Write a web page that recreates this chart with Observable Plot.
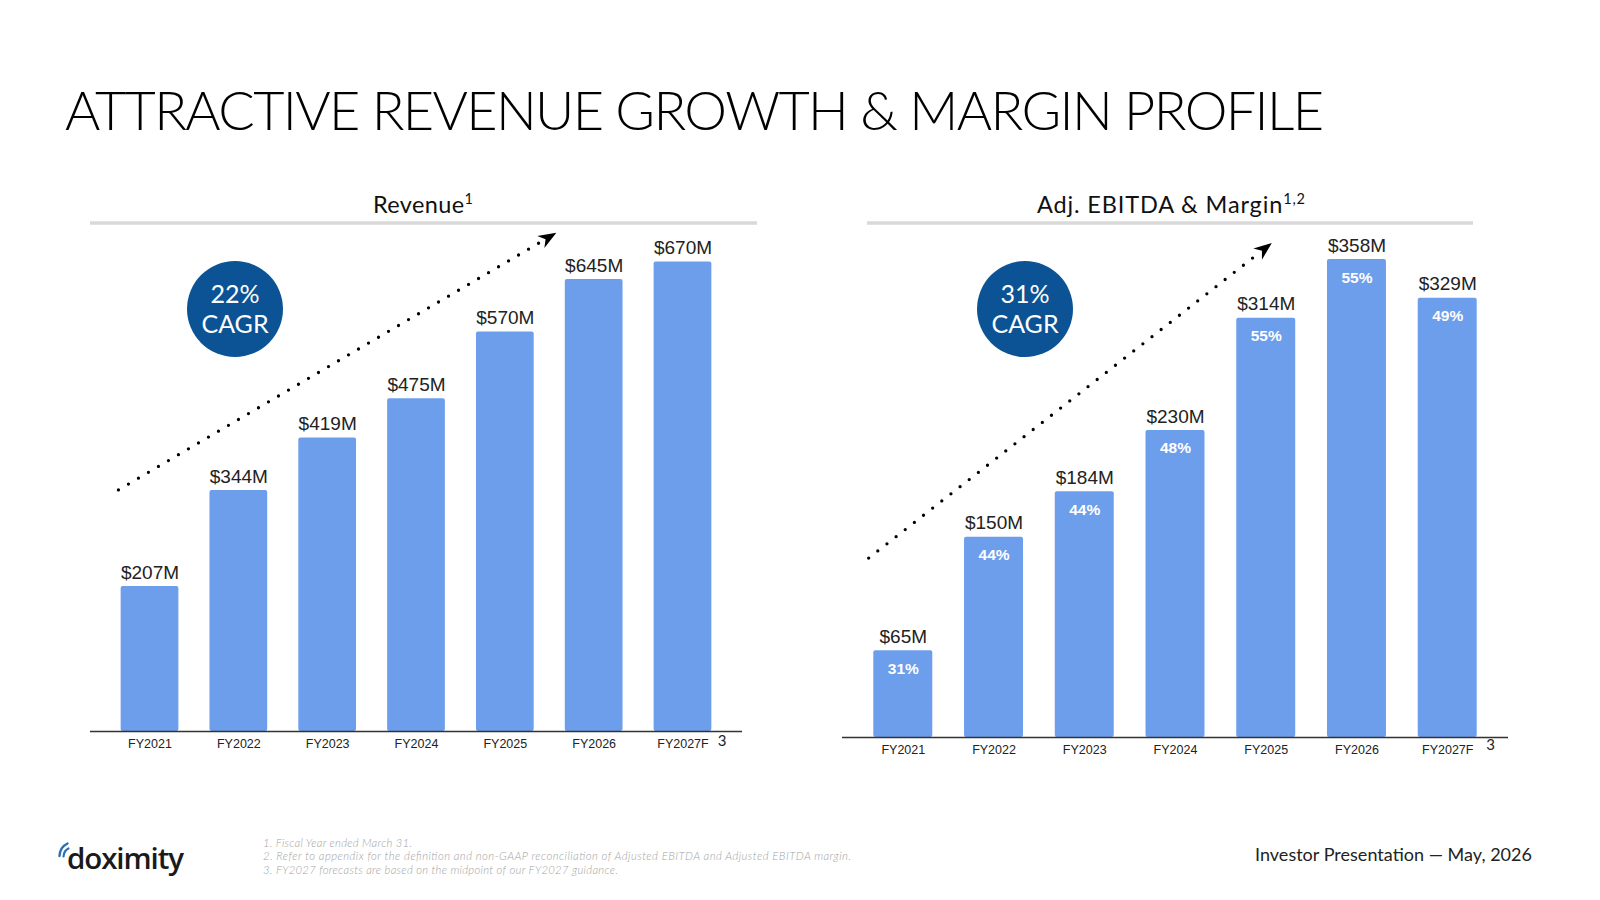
<!DOCTYPE html>
<html>
<head>
<meta charset="utf-8">
<script src="https://cdn.jsdelivr.net/npm/d3@7"></script>
<script src="https://cdn.jsdelivr.net/npm/@observablehq/plot@0.6"></script>
<style>
  html, body { margin: 0; padding: 0; background: #fff; }
  #page { position: relative; width: 1600px; height: 900px; overflow: hidden; background: #fff; }
  #page > svg.frame { position: absolute; left: 0; top: 0; }
  .chart { position: absolute; }
  .chart svg { overflow: visible; }
</style>
</head>
<body>
<div id="page"></div>
<script>
// ---- data ----
const years = ["FY2021", "FY2022", "FY2023", "FY2024", "FY2025", "FY2026", "FY2027F"];
const revenue = [207, 344, 419, 475, 570, 645, 670];          // $M
const ebitda = [65, 150, 184, 230, 314, 358, 329];            // $M
const ebitdaMargin = [31, 44, 44, 48, 55, 55, 49];            // %
const forecastMarks = [{ year: "FY2027F", mark: "3" }];

// trend arrows: position as fractional category index, height in $M
const revenueTrend = [{ at: -0.35, value: 344 }, { at: 4.58, value: 711 }];
const ebitdaTrend = [{ at: -0.376, value: 134 }, { at: 4.067, value: 370 }];

const title = "ATTRACTIVE REVENUE GROWTH & MARGIN PROFILE";
const footnotes = [
  "1. Fiscal Year ended March 31.",
  "2. Refer to appendix for the definition and non-GAAP reconciliation of Adjusted EBITDA and Adjusted EBITDA margin.",
  "3. FY2027 forecasts are based on the midpoint of our FY2027 guidance."
];
const footer = "Investor Presentation \u2014 May, 2026";

const BAR = "#6d9eeb";
const BADGE = "#0b5394";
const SANS = "'Liberation Sans', Arial, Helvetica, sans-serif";
const HUMAN = "Lato, 'Open Sans', sans-serif";

const revenueRows = years.map((year, i) => ({ year, value: revenue[i] }));
const ebitdaRows = years.map((year, i) => ({ year, value: ebitda[i], margin: ebitdaMargin[i] }));

const cagr = (arr) => Math.pow(arr[arr.length - 1] / arr[0], 1 / (arr.length - 1)) - 1;
const pct = d3.format(".0%");

// ---- page frame: title, panel headers, badges, footer ----
const page = d3.select("#page");
const frame = page.append("svg").attr("class", "frame").attr("width", 1600).attr("height", 900);

frame.append("text")
  .attr("x", 65).attr("y", 130)
  .attr("font-family", HUMAN).attr("font-weight", 300).attr("font-size", 54).attr("fill", "#000")
  .attr("textLength", 1259).attr("lengthAdjust", "spacing")
  .text(title);

function panelHeader(cx, x1, x2, label, sup, len) {
  const t = frame.append("text")
    .attr("x", cx).attr("y", 213).attr("text-anchor", "middle")
    .attr("font-family", HUMAN).attr("font-size", 23.5).attr("fill", "#111")
    .attr("textLength", len).attr("lengthAdjust", "spacing");
  t.append("tspan").text(label);
  t.append("tspan").attr("font-size", 14.5).attr("dy", -9).text(sup);
  frame.append("line")
    .attr("x1", x1).attr("x2", x2).attr("y1", 223).attr("y2", 223)
    .attr("stroke", "#d9d9d9").attr("stroke-width", 3.5);
}
panelHeader(423, 90, 757, "Revenue", "1", 100);
panelHeader(1171, 867, 1473, "Adj. EBITDA & Margin", "1,2", 268);

function badge(cx, cy, value) {
  frame.append("circle").attr("cx", cx).attr("cy", cy).attr("r", 48).attr("fill", BADGE);
  const t = frame.append("text").attr("text-anchor", "middle")
    .attr("font-family", HUMAN).attr("font-size", 25).attr("fill", "#fff");
  t.append("tspan").attr("x", cx).attr("y", cy - 6).text(value);
  t.append("tspan").attr("x", cx).attr("y", cy + 24).text("CAGR");
}
badge(235, 309, pct(cagr(revenue)));
badge(1025, 309, pct(cagr(ebitda)));

// logo
const logo = frame.append("g");
logo.append("text")
  .attr("x", 67).attr("y", 869)
  .attr("font-family", "'Open Sans', sans-serif").attr("font-weight", 600)
  .attr("font-size", 29.5).attr("fill", "#1a1a1a")
  .attr("textLength", 117).attr("lengthAdjust", "spacing")
  .text("doximity");
logo.append("path").attr("d", "M59.5,856 Q60,847 67.5,843.5")
  .attr("fill", "none").attr("stroke", "#2a6fb8").attr("stroke-width", 2.4).attr("stroke-linecap", "round");
logo.append("path").attr("d", "M63.5,856.5 Q64,850.5 68.5,848.5")
  .attr("fill", "none").attr("stroke", "#2a6fb8").attr("stroke-width", 2.2).attr("stroke-linecap", "round");

// footnotes
const noteLengths = [149, 588, 355];
footnotes.forEach((s, i) => {
  frame.append("text")
    .attr("x", 263).attr("y", 846.5 + i * 13.7)
    .attr("font-family", HUMAN).attr("font-style", "italic").attr("font-weight", 300)
    .attr("font-size", 11.3).attr("fill", "#a3a3a3")
    .attr("textLength", noteLengths[i]).attr("lengthAdjust", "spacing")
    .text(s);
});

frame.append("text")
  .attr("x", 1532).attr("y", 861).attr("text-anchor", "end")
  .attr("font-family", HUMAN).attr("font-size", 18).attr("fill", "#222")
  .attr("textLength", 277).attr("lengthAdjust", "spacing")
  .text(footer);

// ---- charts ----
function drawTrend(chart, trend) {
  const svgEl = chart.tagName.toLowerCase() === "svg" ? chart : chart.querySelector("svg");
  const sx = chart.scale("x"), sy = chart.scale("y");
  const band = d3.scaleBand(sx.domain, sx.range)
    .paddingInner(sx.paddingInner ?? 0.35).paddingOuter(sx.paddingOuter ?? 0.345).align(sx.align ?? 0.5);
  const yf = sy.apply ? (v) => sy.apply(v) : d3.scaleLinear(sy.domain, sy.range);
  const x0 = band(sx.domain[0]) + band.bandwidth() / 2;
  const px = (f) => x0 + f * band.step();
  const p0 = [px(trend[0].at), yf(trend[0].value)];
  const p1 = [px(trend[1].at), yf(trend[1].value)];
  const ang = Math.atan2(p1[1] - p0[1], p1[0] - p0[0]);
  const stop = 15;
  const g = d3.select(svgEl).append("g").attr("class", "trend");
  g.append("line")
    .attr("x1", p0[0]).attr("y1", p0[1])
    .attr("x2", p1[0] - Math.cos(ang) * stop).attr("y2", p1[1] - Math.sin(ang) * stop)
    .attr("stroke", "#000").attr("stroke-width", 3.3)
    .attr("stroke-linecap", "round").attr("stroke-dasharray", "0 11.6");
  g.append("path")
    .attr("d", "M0,0L-18,-7L-12.5,0L-18,7Z")
    .attr("fill", "#000")
    .attr("transform", `translate(${p1[0]},${p1[1]}) rotate(${ang * 180 / Math.PI})`);
}

function barChart({ rows, width, height, yMax, left, top, markDx, markDy, trend, margins }) {
  const marks = [
    Plot.barY(rows, { x: "year", y: "value", fill: BAR, rx: 2 }),
    Plot.ruleY([0], { stroke: "#333", strokeWidth: 1.5 }),
    Plot.text(rows, { x: "year", y: "value", text: (d) => `$${d.value}M`, dy: -14, fontSize: 19, fill: "#222" }),
    Plot.text(forecastMarks, { x: "year", y: () => 0, text: "mark", dx: markDx, dy: markDy, fontSize: 15, fontFamily: HUMAN, fill: "#222" })
  ];
  if (margins) {
    marks.push(Plot.text(rows, { x: "year", y: "value", text: (d) => `${d.margin}%`, dy: 18, fontSize: 15.5, fontWeight: "bold", fill: "#fff" }));
  }
  const chart = Plot.plot({
    width, height,
    marginTop: 0, marginRight: 0, marginLeft: 0, marginBottom: 32,
    style: { background: "transparent", fontFamily: SANS, fontSize: "12.5px", color: "#222", overflow: "visible" },
    x: { domain: years, paddingInner: 0.35, paddingOuter: 0.345, round: false, tickSize: 0, tickPadding: 8, label: null },
    y: { domain: [0, yMax], axis: null },
    marks
  });
  const holder = page.append("div").attr("class", "chart")
    .style("left", left + "px").style("top", top + "px")
    .style("width", width + "px").style("height", height + "px");
  holder.node().appendChild(chart);
  drawTrend(chart, trend);
}

barChart({ rows: revenueRows, width: 652, height: 540, yMax: 725, left: 90, top: 223, markDx: 39, markDy: 10, trend: revenueTrend, margins: false });
barChart({ rows: ebitdaRows, width: 666, height: 546, yMax: 385, left: 842, top: 223, markDx: 43, markDy: 8, trend: ebitdaTrend, margins: true });
</script>
</body>
</html>
